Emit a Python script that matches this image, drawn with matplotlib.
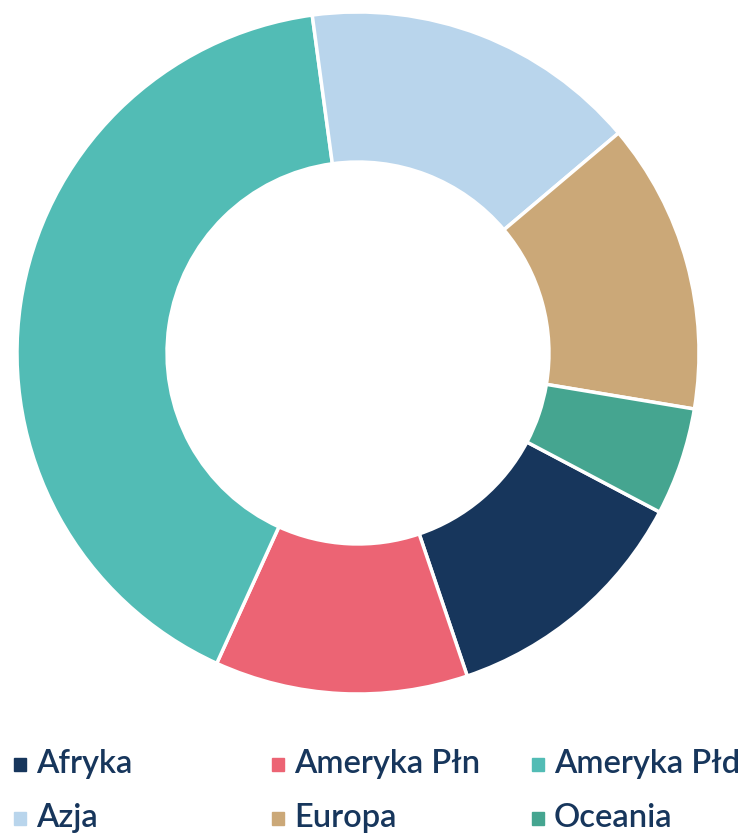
import matplotlib.pyplot as plt
from matplotlib.patches import Rectangle

labels = ['Afryka', 'Ameryka Płn', 'Ameryka Płd', 'Azja', 'Europa', 'Oceania']
values = [12.1, 12.0, 41.1, 16.0, 13.8, 5.1]
colors = ['#17365c', '#ec6474', '#52bcb5', '#b9d5ec', '#cba878', '#45a590']

fig = plt.figure(figsize=(7.48, 8.34), dpi=100)
ax = fig.add_axes([17 / 748, 140 / 834, 682 / 748, 682 / 834])

# donut, clockwise from Afryka
ax.pie(values, colors=colors, startangle=-27.8, counterclock=False,
       wedgeprops=dict(width=0.44, edgecolor='white', linewidth=2.5))
ax.set_xlim(-1, 1)
ax.set_ylim(-1, 1)
ax.set_aspect('equal')
ax.axis('off')

# legend drawn by hand: 3 columns, 2 rows
col_x = [14, 272, 532]
row_y = [764, 818]
for i, (lab, col) in enumerate(zip(labels, colors)):
    x = col_x[i % 3]
    y = row_y[i // 3]
    fig.patches.append(Rectangle((x / 748, 1 - (y + 7) / 834), 12 / 748, 13 / 834,
                                 transform=fig.transFigure, color=col))
    fig.text((x + 22) / 748, 1 - y / 834, lab, ha='left', va='center',
             fontsize=23.5, fontfamily='Lato', fontweight='semibold', color='#17365c')

fig.savefig('out.png', dpi=100)
